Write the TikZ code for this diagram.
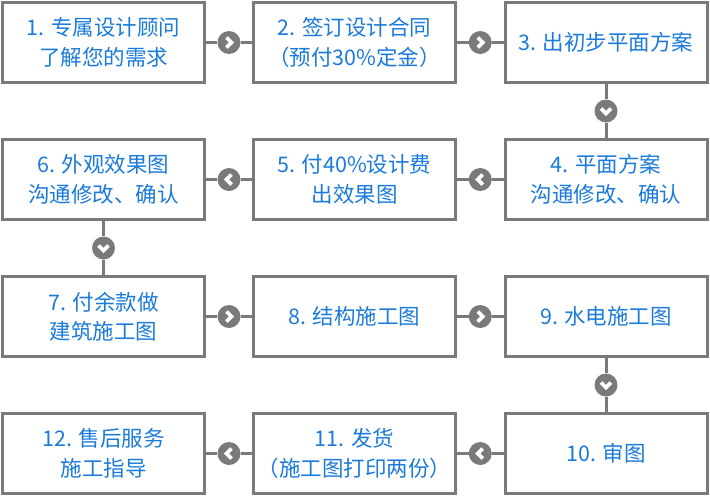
\documentclass[tikz,border=0pt]{standalone}
\usepackage{fontspec}
\newfontfamily\cjk{Noto Sans CJK SC}
\usetikzlibrary{calc}
\definecolor{gr}{HTML}{7A7A7A}
\definecolor{bl}{HTML}{1A7BDA}
\tikzset{
  stepbox/.style={draw=gr, line width=3pt, fill=white, minimum width=202pt, minimum height=80pt,
    inner sep=0pt, align=center, text=bl, font=\cjk\fontsize{21.5}{29.5}\selectfont},
  circ/.style={circle, fill=gr, minimum size=23pt, inner sep=0pt},
  chev/.style={white, line width=3.6pt, miter limit=10},
  cR/.style={circ, path picture={\draw[chev] ([xshift=-2.5pt,yshift=5pt]path picture bounding box.center) -- ([xshift=2.5pt]path picture bounding box.center) -- ([xshift=-2.5pt,yshift=-5pt]path picture bounding box.center);}},
  cL/.style={circ, path picture={\draw[chev] ([xshift=2.5pt,yshift=5pt]path picture bounding box.center) -- ([xshift=-2.5pt]path picture bounding box.center) -- ([xshift=2.5pt,yshift=-5pt]path picture bounding box.center);}},
  cD/.style={circ, path picture={\draw[chev] ([xshift=-5pt,yshift=2.5pt]path picture bounding box.center) -- ([yshift=-2.5pt]path picture bounding box.center) -- ([xshift=5pt,yshift=2.5pt]path picture bounding box.center);}},
  link/.style={draw=gr, line width=3pt}
}
\begin{document}
\begin{tikzpicture}[x=1pt,y=-1pt]
\useasboundingbox[fill=white] (0,0) rectangle (710,496);
% row 1
\node[stepbox] (n1) at (103.5,42.5) {1. 专属设计顾问\\了解您的需求};
\node[stepbox] (n2) at (354.5,42.5) {2. 签订设计合同\\（预付30\%定金）};
\node[stepbox] (n3) at (606,42.5) {3. 出初步平面方案};
% row 2
\node[stepbox] (n6) at (103.5,179.5) {6. 外观效果图\\沟通修改、确认};
\node[stepbox] (n5) at (354.5,179.5) {5. 付40\%设计费\\出效果图};
\node[stepbox] (n4) at (606,179.5) {4. 平面方案\\沟通修改、确认};
% row 3
\node[stepbox] (n7) at (103.5,316.5) {7. 付余款做\\建筑施工图};
\node[stepbox] (n8) at (354.5,316.5) {8. 结构施工图};
\node[stepbox] (n9) at (606,316.5) {9. 水电施工图};
% row 4
\node[stepbox] (n12) at (103.5,453.5) {12. 售后服务\\施工指导};
\node[stepbox] (n11) at (354.5,453.5) {11. 发货\\（施工图打印两份）};
\node[stepbox] (n10) at (606,453.5) {10. 审图};
% connectors
\node[cR] (a12) at ($(n1.east)!0.5!(n2.west)$) {};
\node[cR] (a23) at ($(n2.east)!0.5!(n3.west)$) {};
\node[cD] (a34) at ($(n3.south)!0.5!(n4.north)$) {};
\node[cL] (a45) at ($(n5.east)!0.5!(n4.west)$) {};
\node[cL] (a56) at ($(n6.east)!0.5!(n5.west)$) {};
\node[cD] (a67) at ($(n6.south)!0.5!(n7.north)$) {};
\node[cR] (a78) at ($(n7.east)!0.5!(n8.west)$) {};
\node[cR] (a89) at ($(n8.east)!0.5!(n9.west)$) {};
\node[cD] (a910) at ($(n9.south)!0.5!(n10.north)$) {};
\node[cL] (a1011) at ($(n11.east)!0.5!(n10.west)$) {};
\node[cL] (a1112) at ($(n12.east)!0.5!(n11.west)$) {};
\draw[link] (n1) -- (a12) -- (n2);
\draw[link] (n2) -- (a23) -- (n3);
\draw[link] (n3) -- (a34) -- (n4);
\draw[link] (n4) -- (a45) -- (n5);
\draw[link] (n5) -- (a56) -- (n6);
\draw[link] (n6) -- (a67) -- (n7);
\draw[link] (n7) -- (a78) -- (n8);
\draw[link] (n8) -- (a89) -- (n9);
\draw[link] (n9) -- (a910) -- (n10);
\draw[link] (n10) -- (a1011) -- (n11);
\draw[link] (n11) -- (a1112) -- (n12);
\end{tikzpicture}
\end{document}
